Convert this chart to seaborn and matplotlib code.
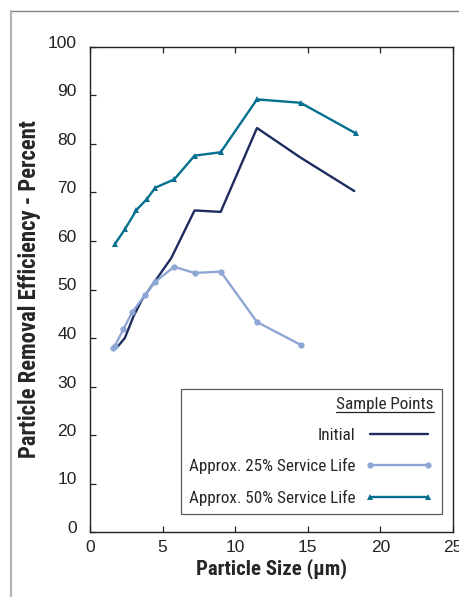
import matplotlib
matplotlib.use("Agg")
import matplotlib.pyplot as plt
from matplotlib import font_manager
from matplotlib.lines import Line2D
from matplotlib.transforms import ScaledTranslation
import seaborn as sns
import pandas as pd

# Particle size (um) and removal efficiency (%)
initial_x = [1.9, 2.4, 3.0, 3.6, 4.5, 5.6, 7.2, 9.0, 11.5, 14.5, 18.2]
initial_y = [38.2, 40.0, 44.5, 48.0, 51.8, 56.5, 66.3, 66.0, 83.3, 77.2, 70.3]

life25_x = [1.6, 1.7, 2.3, 2.9, 3.8, 4.45, 5.8, 7.2, 9.0, 11.5, 14.5]
life25_y = [37.9, 38.3, 41.8, 45.3, 48.9, 51.5, 54.7, 53.4, 53.7, 43.3, 38.6]

life50_x = [1.7, 2.4, 3.2, 3.9, 4.5, 5.8, 7.2, 9.0, 11.5, 14.5, 18.3]
life50_y = [59.3, 62.4, 66.4, 68.6, 71.0, 72.7, 77.6, 78.3, 89.2, 88.5, 82.2]

x_ticks = [0, 5, 10, 15, 20, 25]
y_ticks = [0, 10, 20, 30, 40, 50, 60, 70, 80, 90, 100]

series = [
    ("Initial", initial_x, initial_y, "#1e2b5e", None, 0),
    ("Approx. 25% Service Life", life25_x, life25_y, "#8ea6d6", "o", 4.5),
    ("Approx. 50% Service Life", life50_x, life50_y, "#046f8e", "^", 5),
]

# a condensed face for the labels, like the Helvetica Condensed in the original
available = {f.name for f in font_manager.fontManager.ttflist}
narrow = next((n for n in ["Roboto Condensed", "Archivo Narrow", "PT Sans Narrow",
                           "Liberation Sans Narrow"] if n in available), "Liberation Sans")

sns.set_theme(style="ticks")
plt.rcParams["font.family"] = [narrow, "Liberation Sans", "DejaVu Sans"]

fig = plt.figure(figsize=(4.59, 5.97), dpi=100)
ax = fig.add_axes([90 / 459, 1 - 532 / 597, 363 / 459, 485 / 597])

for name, xs, ys, color, marker, ms in series:
    df = pd.DataFrame({"x": xs, "y": ys})
    sns.lineplot(data=df, x="x", y="y", ax=ax, color=color, lw=1.7,
                 marker=marker, markersize=ms, markeredgewidth=0,
                 label=name, sort=False, errorbar=None)

ax.set_xlim(0, 25)
ax.set_ylim(0, 100)
ax.set_xticks(x_ticks)
ax.set_yticks(y_ticks)
tick_font = {"family": ["Liberation Sans", "DejaVu Sans"], "size": 12.5}
ax.set_xticklabels([str(t) for t in x_ticks], fontdict=tick_font)
ax.set_yticklabels([str(t) for t in y_ticks], fontdict=tick_font)
ax.tick_params(axis="both", direction="in", length=4, width=0.9, colors="#222222",
               top=True, right=False, labeltop=False)
ax.tick_params(axis="y", pad=9.5)
ax.tick_params(axis="x", pad=6)
# y labels sit a little above their ticks in the original
lift = ScaledTranslation(0, 0.05, fig.dpi_scale_trans)
for lab in ax.get_yticklabels():
    lab.set_transform(lab.get_transform() + lift)
for sp in ax.spines.values():
    sp.set_visible(True)
    sp.set_color("#222222")
    sp.set_linewidth(1.0)

ax.set_xlabel("Particle Size (µm)", fontsize=15, fontweight="bold", labelpad=2)
ax.set_ylabel("Particle Removal Efficiency - Percent", fontsize=16.3,
              fontweight="bold", labelpad=5)

leg = ax.legend(loc="lower right", bbox_to_anchor=(0.97, 0.037), markerfirst=False,
                numpoints=2, handlelength=4.0, title="Sample Points",
                alignment="right", fancybox=False, frameon=True, fontsize=12.3,
                title_fontsize=12.3, labelspacing=0.9, borderpad=0.5,
                handletextpad=0.55, borderaxespad=0)
leg.get_frame().set_edgecolor("#333333")
leg.get_frame().set_linewidth(0.9)

# underline the legend title
fig.canvas.draw()
bb = leg.get_title().get_window_extent().transformed(fig.transFigure.inverted())
fig.add_artist(Line2D([bb.x0, bb.x1], [bb.y0 + 0.001, bb.y0 + 0.001],
                      transform=fig.transFigure, color="#222222", lw=0.9))

# outer page frame
fig.add_artist(Line2D([11 / 459, 1], [1 - 11 / 597, 1 - 11 / 597],
                      transform=fig.transFigure, color="#808080", lw=1.0))
fig.add_artist(Line2D([11 / 459, 11 / 459], [0, 1 - 11 / 597],
                      transform=fig.transFigure, color="#b5b5b5", lw=1.6))

fig.savefig("out.png", dpi=100)
